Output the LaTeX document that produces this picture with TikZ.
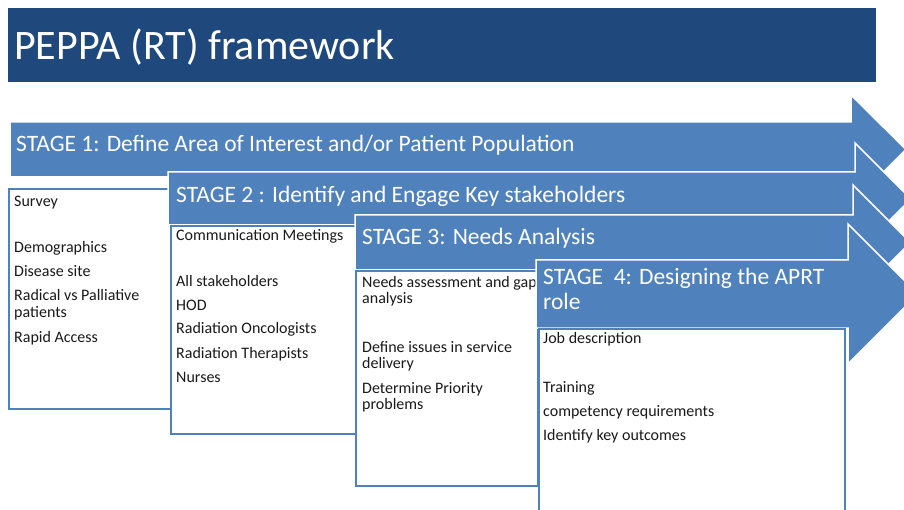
\documentclass[tikz,border=0pt]{standalone}
\usepackage{fontspec}
\setmainfont{Carlito}
\definecolor{titlebg}{HTML}{1F497D}
\definecolor{arrowblue}{HTML}{4F81BD}
\definecolor{boxline}{HTML}{4F81BD}
\definecolor{itemink}{HTML}{1A1A1A}
\begin{document}
\begin{tikzpicture}[x=1pt,y=-1pt,
  stagearrow/.style={fill=arrowblue,draw=white,line width=1.5pt,line join=miter},
  itembox/.style={draw=boxline,fill=white,line width=2pt,inner sep=0pt,anchor=north west},
  titletext/.style={anchor=base west,inner sep=0pt,text=white,font=\fontsize{42}{48}\selectfont},
  stagetext/.style={anchor=base west,inner sep=0pt,text=white,font=\fontsize{23.5}{27}\selectfont},
  itemtext/.style={anchor=base west,inner sep=0pt,text=itemink,font=\fontsize{16}{19}\selectfont},
]
\useasboundingbox (0,0) rectangle (904,510);
\clip (0,0) rectangle (904,510);
\fill[white] (0,0) rectangle (904,510);

% title bar
\node[fill=titlebg,minimum width=868pt,minimum height=74pt,anchor=north west,inner sep=0pt] (titlebar) at (8,8) {};
\node[titletext] (title) at (14,60) {PEPPA (RT) framework};

% stage 1
\path[stagearrow] (10,122) -- (851,122) -- (851,95) -- (906,149.5) -- (851,204) -- (851,177) -- (10,177) -- cycle;
\node[stagetext] (s1) at (16,152) {STAGE 1: Define Area of Interest and/or Patient Population};
\node[itembox,minimum width=162pt,minimum height=220pt] (box1) at (8,188) {};
\node[itemtext] (b1a) at (14,207) {Survey};
\node[itemtext] (b1b) at (14,253) {Demographics};
\node[itemtext] (b1c) at (14,277) {Disease site};
\node[itemtext] (b1d) at (14,301) {Radical vs Palliative};
\node[itemtext] (b1e) at (14,318) {patients};
\node[itemtext] (b1f) at (14,342) {Rapid Access};

% stage 2
\path[stagearrow] (168,172) -- (855,172) -- (855,143) -- (911,199) -- (855,255) -- (855,225) -- (168,225) -- cycle;
\node[stagetext] (s2) at (176,203) {STAGE 2 : Identify and Engage Key stakeholders};
\node[itembox,minimum width=185pt,minimum height=208pt] (box2) at (170,225) {};
\node[itemtext] (b2a) at (176,241) {Communication Meetings};
\node[itemtext] (b2b) at (176,287) {All stakeholders};
\node[itemtext] (b2c) at (176,311) {HOD};
\node[itemtext] (b2d) at (176,334) {Radiation Oncologists};
\node[itemtext] (b2e) at (176,358) {Radiation Therapists};
\node[itemtext] (b2f) at (176,382) {Nurses};

% stage 3
\path[stagearrow] (355,215) -- (853,215) -- (853,185) -- (910.5,242.5) -- (853,300) -- (853,270) -- (355,270) -- cycle;
\node[stagetext] (s3) at (362,245) {STAGE 3: Needs Analysis};
\node[itembox,minimum width=182pt,minimum height=215pt] (box3) at (355,270) {};
\node[itemtext] (b3a) at (362,288) {Needs assessment and gap};
\node[itemtext] (b3b) at (362,304) {analysis};
\node[itemtext] (b3c) at (362,352) {Define issues in service};
\node[itemtext] (b3d) at (362,368) {delivery};
\node[itemtext] (b3e) at (362,393) {Determine Priority};
\node[itemtext] (b3f) at (362,409) {problems};

% stage 4
\path[stagearrow] (536,260) -- (848,260) -- (848,224) -- (918,294) -- (848,364) -- (848,328) -- (536,328) -- cycle;
\node[stagetext] (s4a) at (543,285) {STAGE\ \ 4: Designing the APRT};
\node[stagetext] (s4b) at (543,309) {role};
\node[itembox,minimum width=306pt,minimum height=200pt] (box4) at (538,328) {};
\node[itemtext] (b4a) at (543,343) {Job description};
\node[itemtext] (b4b) at (543,392) {Training};
\node[itemtext] (b4c) at (543,416) {competency requirements};
\node[itemtext] (b4d) at (543,440) {Identify key outcomes};
\end{tikzpicture}
\end{document}
